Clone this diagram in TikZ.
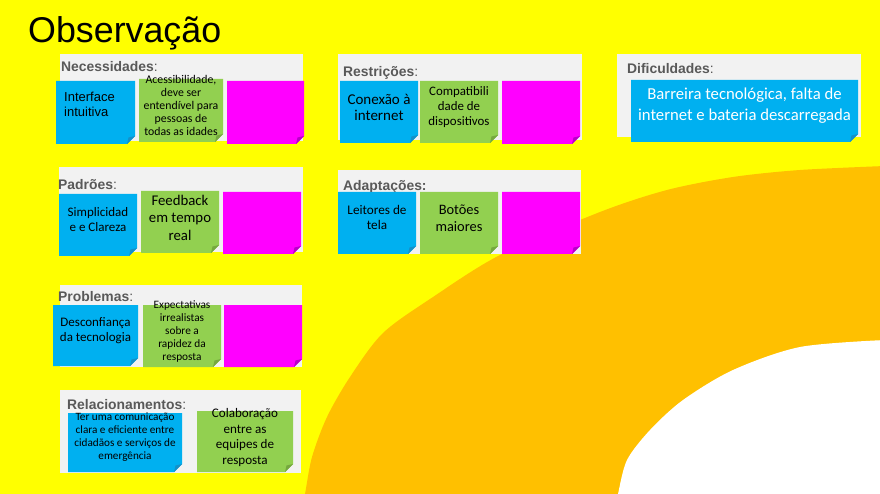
\documentclass[tikz,border=0pt]{standalone}
\usepackage{fontspec}
\setmainfont{Carlito}
\newfontfamily\arialf{Liberation Sans}
\definecolor{bgyellow}{HTML}{FFFF00}
\definecolor{ringorange}{HTML}{FFC000}
\definecolor{panelgray}{HTML}{F2F2F2}
\definecolor{labelgray}{HTML}{595959}
\definecolor{sblue}{HTML}{00B0F0}
\definecolor{sbluefold}{HTML}{1590C8}
\definecolor{sgreen}{HTML}{92D050}
\definecolor{sgreenfold}{HTML}{75A83E}
\definecolor{smag}{HTML}{FF00FF}
\definecolor{smagfold}{HTML}{B800C8}
\newcommand\sticky[6]{%
  \fill[#6] (#2,#3) -- (#4,#3) -- (#4,#5-8) -- (#4-8,#5) -- (#2,#5) -- cycle;
  \fill[#6fold] (#4,#5-8) -- (#4-8,#5) -- (#4-6.5,#5-6.5) -- cycle;
  \coordinate (#1) at ({(#2+#4)/2},{(#3+#5)/2});
}
\tikzset{
  lbl/.style={anchor=base west, inner sep=0pt, text=labelgray, font=\arialf\bfseries\fontsize{13.9}{16}\selectfont},
  txt/.style={inner sep=0pt, align=center, text=black},
  panel/.style={fill=panelgray}
}
\begin{document}
\begin{tikzpicture}[x=1pt,y=-1pt]
\useasboundingbox (0,0) rectangle (880,494);
\fill[bgyellow] (0,0) rectangle (880,494);
% orange ring
\fill[ringorange] plot[smooth] coordinates {(303,500) (305,494) (312,457) (327,417) (350,377) (383,333) (433,297) (500,255) (600,212) (667,190) (733,177) (800,170) (885,166)} -- (885,500) -- cycle;
\fill[white] plot[smooth] coordinates {(617,500) (618,494) (627,460) (650,430) (683,400) (733,370) (800,347) (885,340)} -- (885,500) -- cycle;
% title
\node[anchor=base west, inner sep=0pt, font=\arialf\fontsize{35.8}{40}\selectfont] (title) at (28,43) {Observação};
% panels
\fill[panel] (60,54) rectangle (303,141);
\fill[panel] (338,54) rectangle (582,140);
\fill[panel] (617,54) rectangle (861,137);
\fill[panel] (59,167) rectangle (303,252);
\fill[panel] (338,170) rectangle (581,254);
\fill[panel] (60,285) rectangle (302,367);
\fill[panel] (60,390) rectangle (301,473);
% labels
\node[lbl] (l1) at (61,72) {Necessidades\mdseries:};
\node[lbl] (l2) at (343,77) {Restrições\mdseries:};
\node[lbl] (l3) at (627,74) {Dificuldades\mdseries:};
\node[lbl] (l4) at (58,190) {Padrões\mdseries:};
\node[lbl] (l5) at (343,191) {Adaptações:};
\node[lbl] (l6) at (58,301) {Problemas\mdseries:};
\node[lbl] (l7) at (67,409) {Relacionamentos\mdseries:};
% stickies
\sticky{s11}{56}{81}{135}{144}{sblue}
\sticky{s12}{139}{79}{223}{142}{sgreen}
\sticky{s13}{227}{81}{304}{144}{smag}
\sticky{s21}{340}{81}{418}{143}{sblue}
\sticky{s22}{420}{81}{498}{143}{sgreen}
\sticky{s23}{502}{81}{580}{144}{smag}
\sticky{s31}{631}{80}{858}{142}{sblue}
\sticky{s41}{59}{194}{137}{256}{sblue}
\sticky{s42}{141}{191}{219}{253}{sgreen}
\sticky{s43}{223}{192}{301}{254}{smag}
\sticky{s51}{338}{192}{416}{254}{sblue}
\sticky{s52}{420}{192}{498}{254}{sgreen}
\sticky{s53}{502}{192}{580}{254}{smag}
\sticky{s61}{53}{305}{138}{366}{sblue}
\sticky{s62}{143}{305}{221}{367}{sgreen}
\sticky{s63}{224}{305}{302}{367}{smag}
\sticky{s71}{68}{413}{182}{472}{sblue}
\sticky{s72}{197}{411}{293}{472}{sgreen}
% sticky texts
\node[txt, anchor=north west, align=left, font=\arialf\fontsize{13}{15.5}\selectfont] (t11) at (64,91.5) {Interface\\intuitiva};
\node[txt, font=\fontsize{11.8}{13}\selectfont] (t12) at (181,105) {Acessibilidade,\\deve ser\\entendível para\\pessoas de\\todas as idades};
\node[txt, font=\fontsize{15}{16.5}\selectfont] (t21) at (379,107.5) {Conexão à\\internet};
\node[txt, font=\fontsize{12.9}{15}\selectfont] (t22) at (459,107.5) {Compatibili\\dade de\\dispositivos};
\node[txt, text=white, font=\fontsize{16.7}{20.5}\selectfont] (t31) at (744.5,105.5) {Barreira tecnológica, falta de\\internet e bateria descarregada};
\node[txt, font=\fontsize{13}{15}\selectfont] (t41) at (98,219.5) {Simplicidad\\e e Clareza};
\node[txt, font=\fontsize{14.8}{17.5}\selectfont] (t42) at (180,217.5) {Feedback\\em tempo\\real};
\node[txt, font=\fontsize{13.2}{15}\selectfont] (t51) at (377,217.5) {Leitores de\\tela};
\node[txt, font=\fontsize{14.4}{17}\selectfont] (t52) at (459,218.5) {Botões\\maiores};
\node[txt, font=\fontsize{13}{15.5}\selectfont] (t61) at (95.5,330.5) {Desconfiança\\da tecnologia};
\node[txt, font=\fontsize{11.3}{13.2}\selectfont] (t62) at (182,331.5) {Expectativas\\irrealistas\\sobre a\\rapidez da\\resposta};
\node[txt, font=\fontsize{11.2}{13}\selectfont] (t71) at (125,437.5) {Ter uma comunicação\\clara e eficiente entre\\cidadãos e serviços de\\emergência};
\node[txt, font=\fontsize{13.1}{15.7}\selectfont] (t72) at (245,437.5) {Colaboração\\entre as\\equipes de\\resposta};
\end{tikzpicture}
\end{document}
